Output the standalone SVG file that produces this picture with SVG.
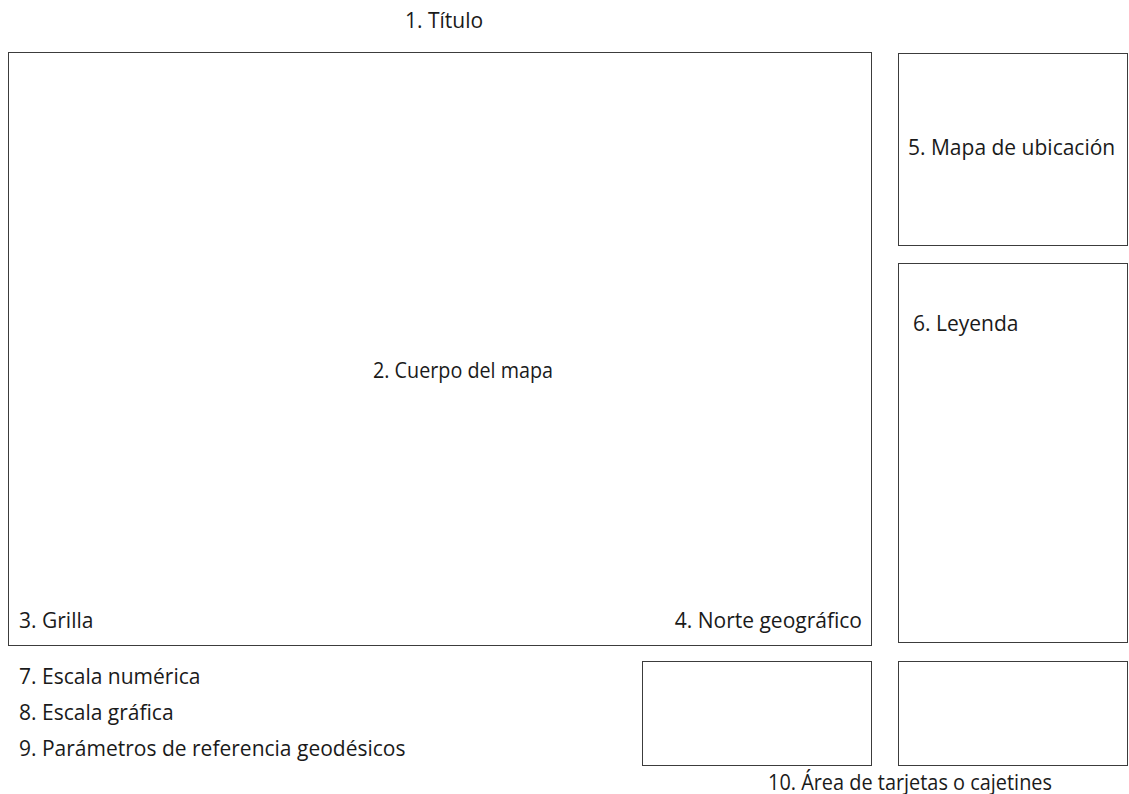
<svg xmlns="http://www.w3.org/2000/svg" width="1129" height="794" viewBox="0 0 1129 794">
  <style>
    .box { fill: #ffffff; stroke: #3c3c3c; stroke-width: 1; }
    .lbl { font-family: "Open Sans", "Noto Sans", sans-serif; font-size: 21px; fill: #1a1a1a; }
  </style>
  <rect width="1129" height="794" fill="#ffffff"/>

  <g id="title">
    <text class="lbl" x="405" y="28">1. Título</text>
  </g>

  <g id="map-body">
    <rect class="box" x="8.5" y="52.5" width="863" height="593"/>
    <text class="lbl" x="373" y="378" textLength="180" lengthAdjust="spacingAndGlyphs">2. Cuerpo del mapa</text>
  </g>

  <g id="grid">
    <text class="lbl" x="19" y="628">3. Grilla</text>
  </g>

  <g id="north">
    <text class="lbl" x="862" y="628" text-anchor="end">4. Norte geográfico</text>
  </g>

  <g id="location-map">
    <rect class="box" x="898.5" y="53.5" width="229" height="192"/>
    <text class="lbl" x="908" y="155">5. Mapa de ubicación</text>
  </g>

  <g id="legend">
    <rect class="box" x="898.5" y="263.5" width="229" height="379"/>
    <text class="lbl" x="913" y="331">6. Leyenda</text>
  </g>

  <g id="numeric-scale">
    <text class="lbl" x="19" y="684">7. Escala numérica</text>
  </g>

  <g id="graphic-scale">
    <text class="lbl" x="19" y="720">8. Escala gráfica</text>
  </g>

  <g id="geodetic-parameters">
    <text class="lbl" x="19" y="756">9. Parámetros de referencia geodésicos</text>
  </g>

  <g id="cards">
    <rect class="box" x="642.5" y="661.5" width="229" height="104"/>
    <rect class="box" x="898.5" y="661.5" width="229" height="104"/>
    <text class="lbl" x="768" y="790" textLength="284" lengthAdjust="spacingAndGlyphs">10. Área de tarjetas o cajetines</text>
  </g>

  <g id="connectors"></g>
</svg>
